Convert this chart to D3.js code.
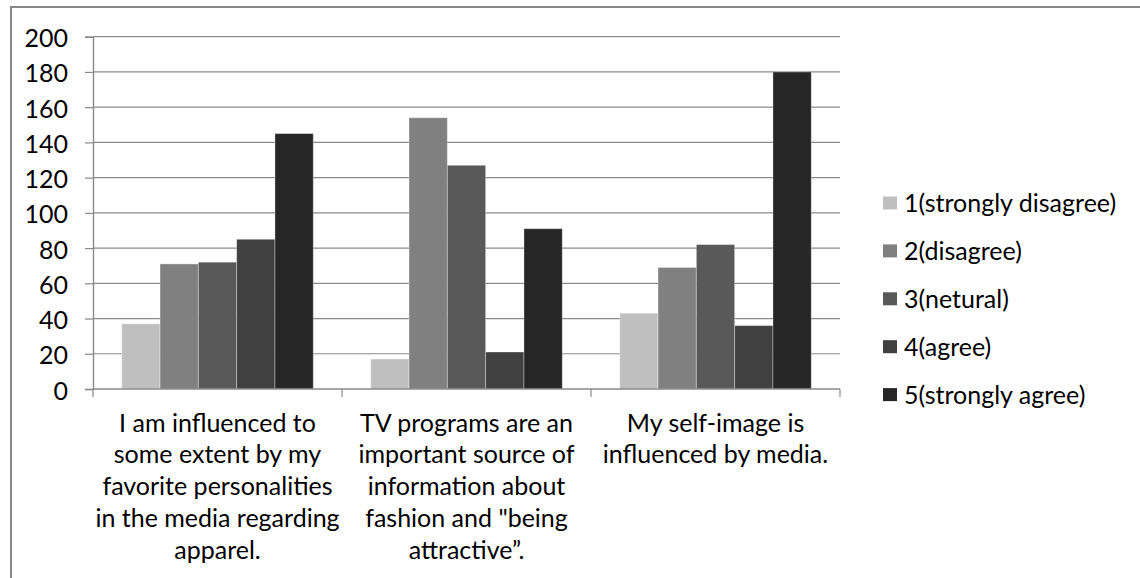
<!DOCTYPE html>
<html>
<head>
<meta charset="utf-8">
<script src="https://cdn.jsdelivr.net/npm/d3@7"></script>
<style>
  html, body { margin: 0; padding: 0; background: #fff; }
  svg { display: block; }
  text { font-family: Lato, "Open Sans", sans-serif; fill: #000; }
</style>
</head>
<body>
<svg id="chart" width="1140" height="578"></svg>
<script>
// Survey statements (x-axis categories), each split over several lines
const categories = [
  "I am influenced to some extent by my favorite personalities in the media regarding apparel.",
  "TV programs are an important source of information about fashion and \"being attractive”.",
  "My self-image is influenced by media."
];
const categoryLines = [
  ["I am influenced to", "some extent by my", "favorite personalities", "in the media regarding", "apparel."],
  ["TV programs are an", "important source of", "information about", "fashion and \"being", "attractive”."],
  ["My self-image is", "influenced by media."]
];

// Likert response levels (series)
const seriesNames = ["1(strongly disagree)", "2(disagree)", "3(netural)", "4(agree)", "5(strongly agree)"];
const seriesColors = ["#bfbfbf", "#808080", "#595959", "#404040", "#262626"];

// Counts per response level, one value per statement
const stronglyDisagree = [37, 17, 43];
const disagree         = [71, 154, 69];
const neutral          = [72, 127, 82];
const agree            = [85, 21, 36];
const stronglyAgree    = [145, 91, 180];
const seriesValues = [stronglyDisagree, disagree, neutral, agree, stronglyAgree];

const yTicks = [0, 20, 40, 60, 80, 100, 120, 140, 160, 180, 200];

const svg = d3.select("#chart");

// Outer chart frame
svg.append("rect")
  .attr("x", 11).attr("y", 7)
  .attr("width", 1300).attr("height", 800)
  .attr("fill", "none")
  .attr("stroke", "#878787")
  .attr("stroke-width", 2);

const plot = { left: 93, right: 840, top: 36.7, bottom: 389 };

const x0 = d3.scaleBand()
  .domain(d3.range(categories.length))
  .range([plot.left, plot.right])
  .paddingInner(0).paddingOuter(0);

const x1 = d3.scaleBand()
  .domain(d3.range(seriesNames.length))
  .range([0, x0.bandwidth()])
  .paddingInner(0).paddingOuter(0.75);

const y = d3.scaleLinear()
  .domain([0, 200])
  .range([plot.bottom, plot.top]);

// Horizontal gridlines
svg.append("g")
  .selectAll("line")
  .data(yTicks.filter(t => t > 0))
  .join("line")
  .attr("x1", plot.left).attr("x2", plot.right)
  .attr("y1", d => y(d)).attr("y2", d => y(d))
  .attr("stroke", "#8a8a8a")
  .attr("stroke-width", 1.2);

// Y axis
const yAxis = svg.append("g")
  .attr("transform", `translate(${plot.left},0)`)
  .call(d3.axisLeft(y).tickValues(yTicks).tickSize(8).tickPadding(17).tickFormat(d3.format("d")));
yAxis.select(".domain").attr("stroke", "#8a8a8a").attr("stroke-width", 1.4);
yAxis.selectAll(".tick line").attr("stroke", "#8a8a8a").attr("stroke-width", 1.2);
yAxis.selectAll(".tick text")
  .attr("font-size", 25)
  .attr("font-family", "Lato, sans-serif")
  .attr("fill", "#000")
  .attr("dy", "0.4em");

// Bars
const groups = svg.append("g")
  .selectAll("g")
  .data(categories.map((c, i) => i))
  .join("g")
  .attr("transform", i => `translate(${x0(i)},0)`);

groups.selectAll("rect")
  .data(ci => seriesValues.map((vals, si) => ({ si, v: vals[ci] })))
  .join("rect")
  .attr("x", d => x1(d.si))
  .attr("y", d => y(d.v))
  .attr("width", x1.bandwidth())
  .attr("height", d => y(0) - y(d.v))
  .attr("fill", d => seriesColors[d.si])
  .attr("stroke", "#ffffff")
  .attr("stroke-opacity", 0.35)
  .attr("stroke-width", 1);

// X axis line with tick marks at category boundaries
const xBounds = categories.map((c, i) => x0(i)).concat([plot.right]);
svg.append("line")
  .attr("x1", plot.left).attr("x2", plot.right)
  .attr("y1", y(0)).attr("y2", y(0))
  .attr("stroke", "#8a8a8a").attr("stroke-width", 1.4);
svg.append("g")
  .selectAll("line")
  .data(xBounds)
  .join("line")
  .attr("x1", d => d).attr("x2", d => d)
  .attr("y1", y(0)).attr("y2", y(0) + 8)
  .attr("stroke", "#8a8a8a").attr("stroke-width", 1.2);

// Category labels
const lineHeight = 31.9;
svg.append("g")
  .selectAll("text")
  .data(categoryLines.map((lines, i) => ({ lines, i })))
  .join("text")
  .attr("text-anchor", "middle")
  .attr("font-size", 25)
  .each(function (d) {
    const cx = x0(d.i) + x0.bandwidth() / 2;
    d3.select(this).selectAll("tspan")
      .data(d.lines)
      .join("tspan")
      .attr("x", cx)
      .attr("y", (t, k) => 431.5 + k * lineHeight)
      .text(t => t);
  });

// Legend
const legend = svg.append("g")
  .selectAll("g")
  .data(seriesNames.map((n, i) => ({ n, i })))
  .join("g")
  .attr("transform", d => `translate(883, ${203 + d.i * 47.9})`);
legend.append("rect")
  .attr("x", 0).attr("y", -6.5)
  .attr("width", 14).attr("height", 13)
  .attr("fill", d => seriesColors[d.i]);
legend.append("text")
  .attr("x", 21).attr("y", 0)
  .attr("dy", "0.36em")
  .attr("font-size", 25)
  .text(d => d.n);
</script>
</body>
</html>
